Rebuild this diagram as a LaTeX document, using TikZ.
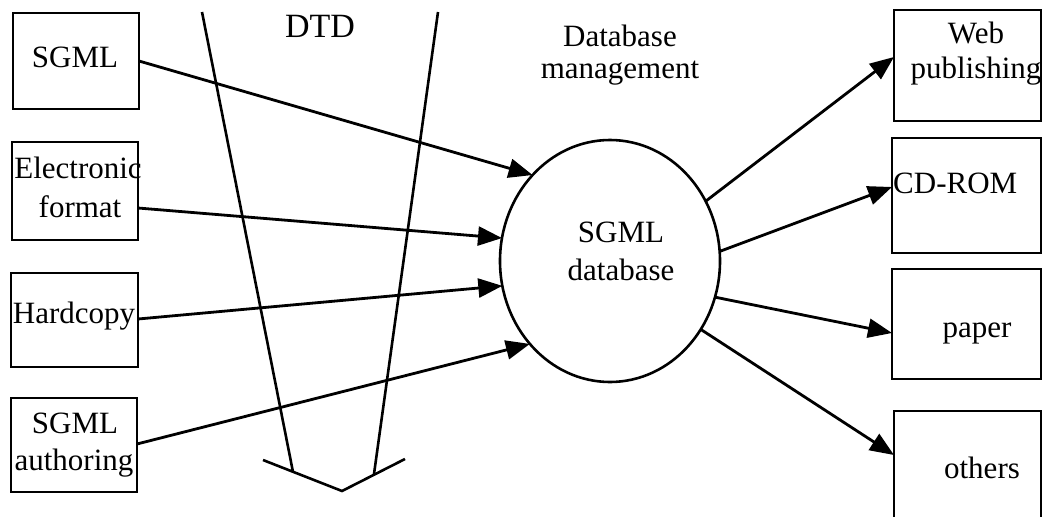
\documentclass[tikz,border=0pt]{standalone}
\usepackage{fontspec}
\setmainfont{Liberation Serif}
\usetikzlibrary{arrows.meta,shapes.geometric,calc}
\begin{document}
\begin{tikzpicture}[x=1pt,y=-1pt,
  box/.style={draw,line width=2.4pt,inner sep=0pt,outer sep=0pt,rectangle},
  txt/.style={inner sep=0pt,anchor=base,font=\fontsize{31}{37}\selectfont},
  arr/.style={line width=2.8pt,-{Triangle[length=24pt,width=19pt]}},
  funnel/.style={line width=2.6pt}]
\useasboundingbox (0,0) rectangle (1045,517);
\clip (0,0) rectangle (1045,517);
% left boxes
\node[box,minimum width=126pt,minimum height=96pt] (b1) at (76,61) {};
\node[box,minimum width=126pt,minimum height=98pt] (b2) at (75,191) {};
\node[box,minimum width=127pt,minimum height=94pt] (b3) at (74.5,320) {};
\node[box,minimum width=126pt,minimum height=94pt] (b4) at (74,445) {};
% right boxes
\node[box,minimum width=147pt,minimum height=111pt] (web) at (967.5,65.5) {};
\node[box,minimum width=149pt,minimum height=115pt] (cd) at (966.5,195.5) {};
\node[box,minimum width=149pt,minimum height=110pt] (pap) at (966.5,324) {};
\node[box,minimum width=147pt,minimum height=149pt] (oth) at (967.5,485.5) {};
% database ellipse
\node[draw,ellipse,line width=2.6pt,inner sep=0pt,outer sep=0pt,minimum width=220pt,minimum height=242pt] (db) at (610,261) {};
% texts
\node[txt] (t1) at (75,67) {SGML};
\node[txt] (t2a) at (78,178) {Electronic};
\node[txt] (t2b) at (80,217) {format};
\node[txt] (t3) at (74,323) {Hardcopy};
\node[txt] (t4a) at (75,433) {SGML};
\node[txt] (t4b) at (74,470) {authoring};
\node[txt,font=\fontsize{34}{40}\selectfont] (dtd) at (320,37) {DTD};
\node[txt] (dm1) at (620,46) {Database};
\node[txt] (dm2) at (620,78) {management};
\node[txt] (s1) at (621,242) {SGML};
\node[txt] (s2) at (621,280) {database};
\node[txt] (w1) at (976,43) {Web};
\node[txt] (w2) at (976,78) {publishing};
\node[txt,anchor=base west] (c1) at (893,193) {CD-ROM};
\node[txt] (p1) at (977,337) {paper};
\node[txt] (o1) at (982,478) {others};
% DTD funnel
\coordinate (fl1) at (202,12);
\coordinate (fl2) at (293,472);
\coordinate (fr1) at (438,12);
\coordinate (fr2) at (374,474);
\coordinate (ch1) at (263,460);
\coordinate (ch2) at (342,491);
\coordinate (ch3) at (405,459);
\draw[funnel] (fl1) -- (fl2);
\draw[funnel] (fr1) -- (fr2);
\draw[funnel] (ch1) -- (ch2) -- (ch3);
% incoming arrows
\draw[arr] ($(b1.north east)+(0,48)$) -- (db.132);
\draw[arr] ($(b2.north east)+(0,66)$) -- (db.168);
\draw[arr] ($(b3.north east)+(0,46)$) -- (db.193.5);
\draw[arr] ($(b4.north east)+(0,46)$) -- (db.226);
% outgoing arrows
\draw[arr] (db.32) -- ($(web.north west)+(0,47)$);
\draw[arr] (db.5.7) -- ($(cd.north west)+(0,49)$);
\draw[arr] (db.-19) -- ($(pap.north west)+(0,64)$);
\draw[arr] (db.-37) -- ($(oth.north west)+(0,44)$);
\end{tikzpicture}
\end{document}
